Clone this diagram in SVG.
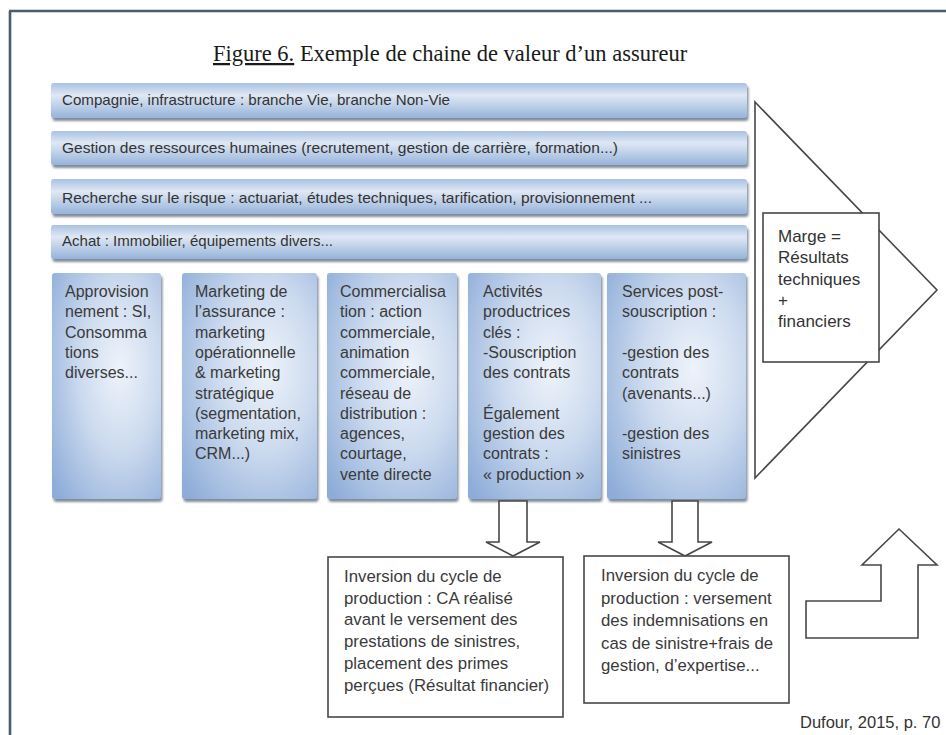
<svg xmlns="http://www.w3.org/2000/svg" width="946" height="735" viewBox="0 0 946 735">
<style>
.bartxt{font-family:"Liberation Sans",Arial,sans-serif;font-size:15px;fill:#333;}
.coltxt{font-family:"Liberation Sans",Arial,sans-serif;font-size:16px;fill:#3a3a3a;}
.boxtxt{font-family:"Liberation Sans",Arial,sans-serif;font-size:16.8px;fill:#3a3a3a;}
.bar{fill:url(#gBar);filter:url(#sh);}
.col{fill:url(#gCol);filter:url(#sh);}
.outline{fill:#fff;stroke:#474747;stroke-width:1.6;}
</style>
<defs>
<linearGradient id="gBar" x1="0" y1="0" x2="0" y2="1">
<stop offset="0" stop-color="#a9c1e2"/>
<stop offset="0.35" stop-color="#dfe8f4"/>
<stop offset="1" stop-color="#96b3da"/>
</linearGradient>
<radialGradient id="gCol" cx="0.62" cy="0.42" r="0.8">
<stop offset="0" stop-color="#eef3fa"/>
<stop offset="0.45" stop-color="#cddbef"/>
<stop offset="1" stop-color="#8dacd8"/>
</radialGradient>
<filter id="sh" x="-5%" y="-5%" width="115%" height="120%">
<feDropShadow dx="1.5" dy="3" stdDeviation="1.2" flood-color="#4f5d72" flood-opacity="0.7"/>
</filter>
</defs>
<rect width="946" height="735" fill="#fff"/>
<g id="frame" stroke="#4d5b6e" stroke-width="2.6" fill="none">
<line x1="10" y1="11" x2="10" y2="735"/>
<line x1="9" y1="11" x2="946" y2="11"/>
</g>
<g id="title">
<text x="213" y="61" font-family="'Liberation Serif','Times New Roman',serif" font-size="22.5" fill="#1a1a1a"><tspan text-decoration="underline">Figure 6.</tspan> Exemple de chaine de valeur d’un assureur</text>
</g>
<g id="bar1"><rect class="bar" x="51" y="83" width="696" height="35" rx="3"/><text class="bartxt" x="62" y="105" textLength="388" lengthAdjust="spacingAndGlyphs">Compagnie, infrastructure : branche Vie, branche Non-Vie</text></g>
<g id="bar2"><rect class="bar" x="51" y="131" width="696" height="34" rx="3"/><text class="bartxt" x="62" y="153" textLength="556" lengthAdjust="spacingAndGlyphs">Gestion des ressources humaines (recrutement, gestion de carrière, formation...)</text></g>
<g id="bar3"><rect class="bar" x="51" y="179" width="696" height="35" rx="3"/><text class="bartxt" x="62" y="203" textLength="590" lengthAdjust="spacingAndGlyphs">Recherche sur le risque : actuariat, études techniques, tarification, provisionnement ...</text></g>
<g id="bar4"><rect class="bar" x="51" y="225" width="696" height="34" rx="3"/><text class="bartxt" x="62" y="246" textLength="271" lengthAdjust="spacingAndGlyphs">Achat : Immobilier, équipements divers...</text></g>
<g id="marge-triangle"><polygon class="outline" points="755,102 937,290 755,478"/></g>
<g id="marge">
<rect class="outline" x="763" y="213" width="116" height="149"/>
<text font-family="'Liberation Sans',Arial,sans-serif" font-size="17" fill="#333">
<tspan x="778" y="242">Marge =</tspan>
<tspan x="778" y="263">Résultats</tspan>
<tspan x="778" y="285">techniques</tspan>
<tspan x="778" y="306">+</tspan>
<tspan x="778" y="327">financiers</tspan>
</text>
</g>
<g id="col1"><rect class="col" x="52" y="273" width="109" height="226" rx="3"/>
<text class="coltxt"><tspan x="65" y="297">Approvision</tspan><tspan x="65" y="317.3">nement : SI,</tspan><tspan x="65" y="337.6">Consomma</tspan><tspan x="65" y="357.9">tions</tspan><tspan x="65" y="378.2">diverses...</tspan></text></g>
<g id="col2"><rect class="col" x="182" y="273" width="135" height="226" rx="3"/>
<text class="coltxt"><tspan x="195" y="297">Marketing de</tspan><tspan x="195" y="317.3">l’assurance :</tspan><tspan x="195" y="337.6">marketing</tspan><tspan x="195" y="357.9">opérationnelle</tspan><tspan x="195" y="378.2">&amp; marketing</tspan><tspan x="195" y="398.5">stratégique</tspan><tspan x="195" y="418.8">(segmentation,</tspan><tspan x="195" y="439.1">marketing mix,</tspan><tspan x="195" y="459.4">CRM...)</tspan></text></g>
<g id="col3"><rect class="col" x="327" y="273" width="130" height="226" rx="3"/>
<text class="coltxt"><tspan x="340" y="297">Commercialisa</tspan><tspan x="340" y="317.3">tion : action</tspan><tspan x="340" y="337.6">commerciale,</tspan><tspan x="340" y="357.9">animation</tspan><tspan x="340" y="378.2">commerciale,</tspan><tspan x="340" y="398.5">réseau de</tspan><tspan x="340" y="418.8">distribution :</tspan><tspan x="340" y="439.1">agences,</tspan><tspan x="340" y="459.4">courtage,</tspan><tspan x="340" y="479.7">vente directe</tspan></text></g>
<g id="col4"><rect class="col" x="468" y="273" width="133" height="226" rx="3"/>
<text class="coltxt"><tspan x="483" y="297">Activités</tspan><tspan x="483" y="317.3">productrices</tspan><tspan x="483" y="337.6">clés :</tspan><tspan x="483" y="357.9">-Souscription</tspan><tspan x="483" y="378.2">des contrats</tspan><tspan x="483" y="418.8">Également</tspan><tspan x="483" y="439.1">gestion des</tspan><tspan x="483" y="459.4">contrats :</tspan><tspan x="483" y="479.7">« production »</tspan></text></g>
<g id="col5"><rect class="col" x="607" y="273" width="139" height="226" rx="3"/>
<text class="coltxt"><tspan x="622" y="297">Services post-</tspan><tspan x="622" y="317.3">souscription :</tspan><tspan x="622" y="357.9">-gestion des</tspan><tspan x="622" y="378.2">contrats</tspan><tspan x="622" y="398.5">(avenants...)</tspan><tspan x="622" y="439.1">-gestion des</tspan><tspan x="622" y="459.4">sinistres</tspan></text></g>
<g id="connectors">
<polygon class="outline" points="499,501 527,501 527,542 540,542 513,556 486,542 499,542"/>
<polygon class="outline" points="672,501 698,501 698,542 712,542 685,556 658,542 672,542"/>
<polygon class="outline" points="806,601 881,601 881,565 862,565 899,529 937,565 918,565 918,638 806,638"/>
</g>
<g id="box1"><rect class="outline" x="328" y="557" width="235" height="160"/>
<text class="boxtxt"><tspan x="344" y="582">Inversion du cycle de</tspan><tspan x="344" y="603.7">production : CA réalisé</tspan><tspan x="344" y="625.4">avant le versement des</tspan><tspan x="344" y="647.1">prestations de sinistres,</tspan><tspan x="344" y="668.8">placement des primes</tspan><tspan x="344" y="690.5">perçues (Résultat financier)</tspan></text></g>
<g id="box2"><rect class="outline" x="584" y="556" width="205" height="147"/>
<text class="boxtxt"><tspan x="601" y="581">Inversion du cycle de</tspan><tspan x="601" y="603.5">production : versement</tspan><tspan x="601" y="626">des indemnisations en</tspan><tspan x="601" y="648.5">cas de sinistre+frais de</tspan><tspan x="601" y="671">gestion, d’expertise...</tspan></text></g>
<g id="source"><text x="800" y="728" font-family="'Liberation Sans',Arial,sans-serif" font-size="16.5" fill="#333">Dufour, 2015, p. 70</text></g>
</svg>
